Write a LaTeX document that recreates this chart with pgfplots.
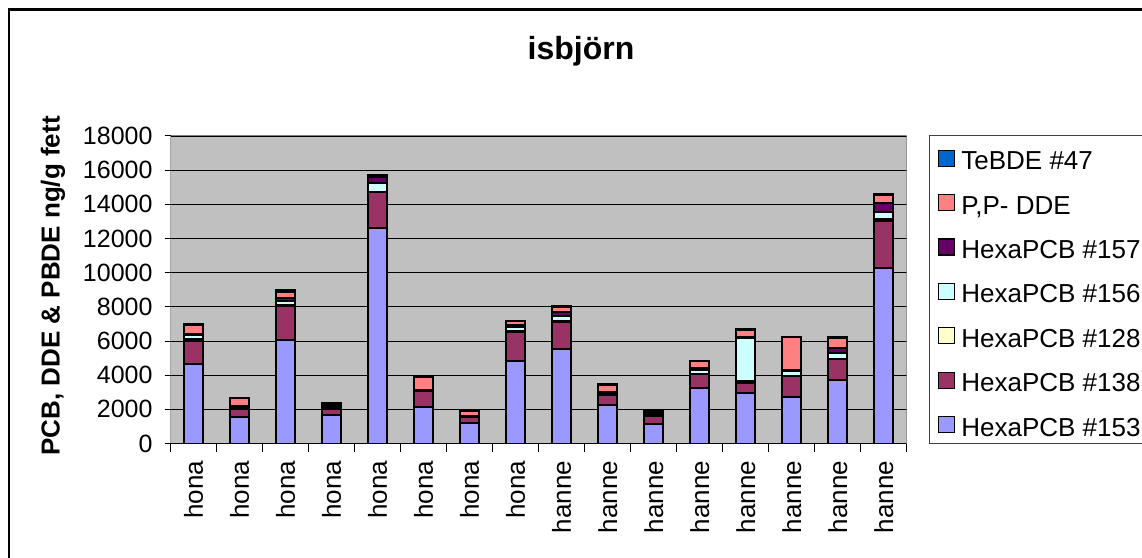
\documentclass[border=0pt]{standalone}
\usepackage{pgfplots}
\pgfplotsset{compat=1.18}
\usepackage{pgfplotstable}
\usepackage{fontspec}
\setmainfont{Liberation Sans}

\definecolor{c153}{HTML}{9999FF}
\definecolor{c138}{HTML}{993366}
\definecolor{c128}{HTML}{FFFFCC}
\definecolor{c156}{HTML}{CCFFFF}
\definecolor{c157}{HTML}{660066}
\definecolor{cdde}{HTML}{FF8080}
\definecolor{cbde}{HTML}{0066CC}
\definecolor{plotbg}{HTML}{C0C0C0}

% concentrations, ng/g fat, one row per animal
\pgfplotstableread{
x  s153  s138 s128 s156 s157 dde  tebde
0  4680  1320 120  230  60   500  80
1  1530  500  60   50   50   450  40
2  6045  1985 80   230  150  400  100
3  1650  350  80   80   100  60   60
4  12600 2100 50   470  370  60   60
5  2150  900  20   20   20   760  60
6  1180  350  30   30   40   280  60
7  4840  1670 80   230  120  230  20
8  5540  1570 40   330  200  330  20
9  2270  580  60   60   55   400  30
10 1140  480  60   60   60   50   30
11 3220  840  30   230  80   410  20
12 2970  600  80   2500 80   410  80
13 2730  1210 20   270  80   1920 10
14 3710  1210 40   360  250  630  20
15 10270 2780 80   450  485  500  30
}\datatable

\pgfplotsset{
  sqlegend/.style={legend image code/.code={
    \draw[##1,line width=1.2pt,draw=black] (0pt,-3.5pt) rectangle (16pt,12.5pt);}},
  seg/.style={fill=#1, draw=black, line width=2pt, sqlegend},
}

\begin{document}
\begin{tikzpicture}[x=1pt,y=1pt]
\useasboundingbox (0,0) rectangle (1142,557);
\draw[line width=2.5pt] (9,547.5) rectangle (1175,-20);
\node[font=\fontsize{32}{38}\selectfont\bfseries, anchor=base] at (581,497) {isbjörn};
\node[rotate=90, font=\fontsize{26}{31}\selectfont\bfseries] at (53,271) {PCB, DDE \& PBDE ng/g fett};
\draw[black!75, line width=1pt] (929,114) rectangle (1175,421);
\begin{axis}[
  at={(170.7pt,113.5pt)}, anchor=south west,
  scale only axis, width=736pt, height=307.5pt,
  xmin=-0.5, xmax=15.5, ymin=0, ymax=18000,
  ybar stacked, bar width=19pt,
  axis background/.style={fill=plotbg},
  axis line style={draw=none},
  ytick={0,2000,...,18000},
  scaled y ticks=false,
  /pgf/number format/1000 sep={},
  /pgf/number format/assume math mode=true,
  ymajorgrids, major grid style={black, line width=0.9pt},
  tick align=outside, major tick length=6pt,
  xtick pos=bottom, ytick pos=left,
  ytick style={black, line width=1pt},
  yticklabel style={font=\fontsize{25}{30}\selectfont, inner sep=0pt, anchor=east, xshift=-12pt},
  xtick={0,...,15},
  xticklabels={hona,hona,hona,hona,hona,hona,hona,hona,hanne,hanne,hanne,hanne,hanne,hanne,hanne,hanne},
  xtick style={draw=none},
  xticklabel style={yshift=-11pt, rotate=90, anchor=east, inner sep=0pt, font=\fontsize{26}{31}\selectfont},
  extra x ticks={-0.5,0.5,...,15.5},
  extra x tick labels={},
  extra x tick style={major tick length=8pt, xtick style={draw=black, line width=1pt}, grid=none},
  legend style={at={(1.0425,0.9567)}, anchor=north west, draw=none, fill=none,
    inner sep=0pt, row sep=19.33pt, column sep=6pt,
    font=\fontsize{26}{31}\selectfont,
    nodes={inner sep=0pt, text height=19pt, text depth=5pt}},
  legend cell align=left,
  reverse legend,
]
\addplot[seg=c153] table[x=x,y=s153]{\datatable};
\addplot[seg=c138] table[x=x,y=s138]{\datatable};
\addplot[seg=c128] table[x=x,y=s128]{\datatable};
\addplot[seg=c156] table[x=x,y=s156]{\datatable};
\addplot[seg=c157] table[x=x,y=s157]{\datatable};
\addplot[seg=cdde] table[x=x,y=dde]{\datatable};
\addplot[seg=cbde] table[x=x,y=tebde]{\datatable};
\legend{HexaPCB \#153,HexaPCB \#138,HexaPCB \#128,HexaPCB \#156,HexaPCB \#157,{P,P- DDE},TeBDE \#47}
\draw[gray, line width=1pt] (rel axis cs:0,1) -- (rel axis cs:1,1) -- (rel axis cs:1,0);
\draw[black, line width=1pt] (rel axis cs:0,1) -- (rel axis cs:0,0) -- (rel axis cs:1,0);
\end{axis}
\end{tikzpicture}
\end{document}
